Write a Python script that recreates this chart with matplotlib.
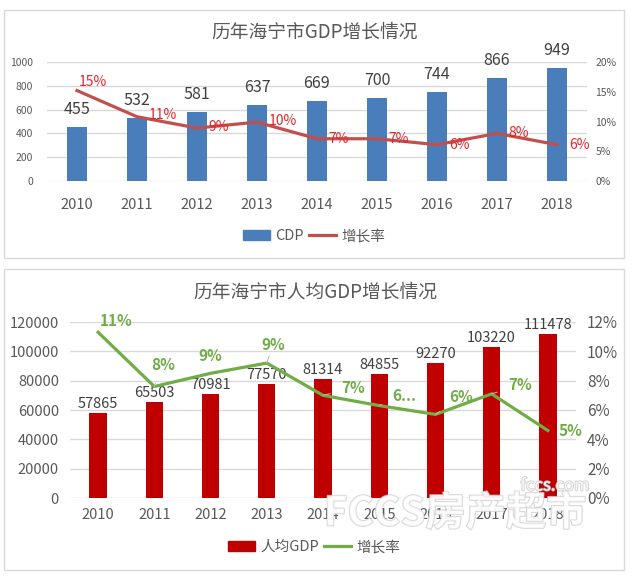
import matplotlib
matplotlib.use("Agg")
import matplotlib.pyplot as plt
import matplotlib.patheffects as pe
from matplotlib.patches import Rectangle, Patch
from matplotlib.lines import Line2D
from matplotlib.ticker import FuncFormatter

plt.rcParams['font.family'] = ['Noto Sans CJK SC', 'DejaVu Sans']

# 数据
years = ['2010', '2011', '2012', '2013', '2014', '2015', '2016', '2017', '2018']
gdp = [455, 532, 581, 637, 669, 700, 744, 866, 949]
gdp_rate = [15.2, 10.8, 8.9, 9.9, 7.1, 7.1, 6.1, 8.0, 6.1]
gdp_rate_labels = ['15%', '11%', '9%', '10%', '7%', '7%', '6%', '8%', '6%']

per_gdp = [57865, 65503, 70981, 77570, 81314, 84855, 92270, 103220, 111478]
per_rate = [11.3, 7.6, 8.5, 9.2, 7.0, 6.3, 5.7, 7.1, 4.6]
per_rate_labels = ['11%', '8%', '9%', '9%', '7%', '6...', '6%', '7%', '5%']

# 标签偏移 (像素)
top_offsets = [(16, 9), (26, 2), (22, 1), (26, 1), (22, 0), (22, 0), (22, 0), (22, 0), (22, 0)]
bot_offsets = [(18, 11), (9, 22), (0, 17), (6, 18), (30, 7), (25, 10), (26, 17), (28, 9), (23, 0)]
bot_leader = [False, True, False, True, True, True, True, True, False]

W, H = 631, 577
fig = plt.figure(figsize=(W / 100, H / 100), dpi=100)
fig.patch.set_facecolor('white')


def px_box(x0, y0, x1, y1):
    return [x0 / W, 1 - y1 / H, (x1 - x0) / W, (y1 - y0) / H]


# 外框
for (x0, y0, x1, y1) in [(4, 10, 624, 258), (4, 269, 624, 570)]:
    fig.patches.append(Rectangle((x0 / W, 1 - y1 / H), (x1 - x0) / W, (y1 - y0) / H,
                                 transform=fig.transFigure, fill=False,
                                 edgecolor='#D9D9D9', lw=1))

grid_c = '#D9D9D9'
text_c = '#595959'
x = list(range(len(years)))


def style_axes(ax, ax2):
    for a in (ax, ax2):
        for s in a.spines.values():
            s.set_visible(False)
        a.tick_params(length=0)
    ax.set_xlim(-0.5, len(years) - 0.5)
    ax.yaxis.grid(True, color=grid_c, lw=1)
    ax.set_axisbelow(True)
    ax.set_xticks(x)
    ax.set_xticklabels(years)


# ---------- 上图 ----------
ax = fig.add_axes(px_box(47, 62, 587, 181))
ax2 = ax.twinx()
style_axes(ax, ax2)
ax.bar(x, gdp, width=0.32, color='#4A7EBB', zorder=2)
ax.set_ylim(0, 1000)
ax.set_yticks(range(0, 1001, 200))
ax2.set_ylim(0, 20)
ax2.set_yticks(range(0, 21, 5))
ax2.yaxis.set_major_formatter(FuncFormatter(lambda v, p: f'{v:.0f}%'))
ax.tick_params(axis='y', labelsize=7.5, labelcolor=text_c, pad=10)
ax2.tick_params(axis='y', labelsize=7.5, labelcolor=text_c, pad=6)
ax.tick_params(axis='x', labelsize=10.5, labelcolor=text_c, pad=12)
for i, v in enumerate(gdp):
    ax.annotate(str(v), (i, v), xytext=(0, 9), textcoords='offset pixels',
                ha='center', va='bottom', fontsize=11.5, color='#404040')
ax2.plot(x, gdp_rate, color='#C0504D', lw=2.3, zorder=3)
for i, v in enumerate(gdp_rate):
    ax2.annotate(gdp_rate_labels[i], (i, v), xytext=top_offsets[i], textcoords='offset pixels',
                 ha='center', va='center', fontsize=10, color='#E3262B')
fig.text(315 / W, 1 - 32 / H, '历年海宁市GDP增长情况', ha='center', va='center',
         fontsize=13.5, color=text_c)
fig.legend(handles=[Patch(color='#4A7EBB', label='CDP'),
                    Line2D([], [], color='#C0504D', lw=2.3, label='增长率')],
           loc='center', bbox_to_anchor=(314 / W, 1 - 236 / H), ncol=2, frameon=False,
           fontsize=10.5, handlelength=1.9, handletextpad=0.35, columnspacing=0.3,
           labelcolor=text_c)

# ---------- 下图 ----------
bx = fig.add_axes(px_box(70, 322, 576, 498))
bx2 = bx.twinx()
style_axes(bx, bx2)
bx.bar(x, per_gdp, width=0.31, color='#C00000', zorder=2)
bx.set_ylim(0, 120000)
bx.set_yticks(range(0, 120001, 20000))
bx2.set_ylim(0, 12)
bx2.set_yticks(range(0, 13, 2))
bx2.yaxis.set_major_formatter(FuncFormatter(lambda v, p: f'{v:.0f}%'))
bx.tick_params(axis='y', labelsize=10.5, labelcolor=text_c, pad=8)
bx2.tick_params(axis='y', labelsize=11, labelcolor=text_c, pad=8)
bx.tick_params(axis='x', labelsize=10.5, labelcolor=text_c, pad=7)
for i, v in enumerate(per_gdp):
    bx.annotate(str(v), (i, v), xytext=(0, 2), textcoords='offset pixels',
                ha='center', va='bottom', fontsize=10.5, color='#404040')
bx2.plot(x, per_rate, color='#70AD47', lw=2.3, zorder=3)
for i, v in enumerate(per_rate):
    arrow = dict(arrowstyle='-', color='#BFBFBF', lw=0.7, shrinkA=6, shrinkB=0) if bot_leader[i] else None
    bx2.annotate(per_rate_labels[i], (i, v), xytext=bot_offsets[i], textcoords='offset pixels',
                 ha='center', va='center', fontsize=11, fontweight='bold', color='#70AD47',
                 arrowprops=arrow, zorder=4)
fig.text(315 / W, 1 - 292 / H, '历年海宁市人均GDP增长情况', ha='center', va='center',
         fontsize=13.5, color=text_c)
fig.legend(handles=[Patch(color='#C00000', label='人均GDP'),
                    Line2D([], [], color='#70AD47', lw=2.3, label='增长率')],
           loc='center', bbox_to_anchor=(314 / W, 1 - 547 / H), ncol=2, frameon=False,
           fontsize=10.5, handlelength=1.9, handletextpad=0.35, columnspacing=0.3,
           labelcolor=text_c)

# 水印
wm = [pe.withStroke(linewidth=1.2, foreground='#C8C8C8')]
fig.text(555 / W, 1 - 486 / H, 'fccs.com', ha='center', va='center', fontsize=12,
         color='white', alpha=0.85, path_effects=wm)
fig.text(455 / W, 1 - 514 / H, 'FCCS房产超市', ha='center', va='center', fontsize=29,
         fontweight='bold', color='white', alpha=0.75, path_effects=wm)

fig.savefig('out.png', dpi=100)
